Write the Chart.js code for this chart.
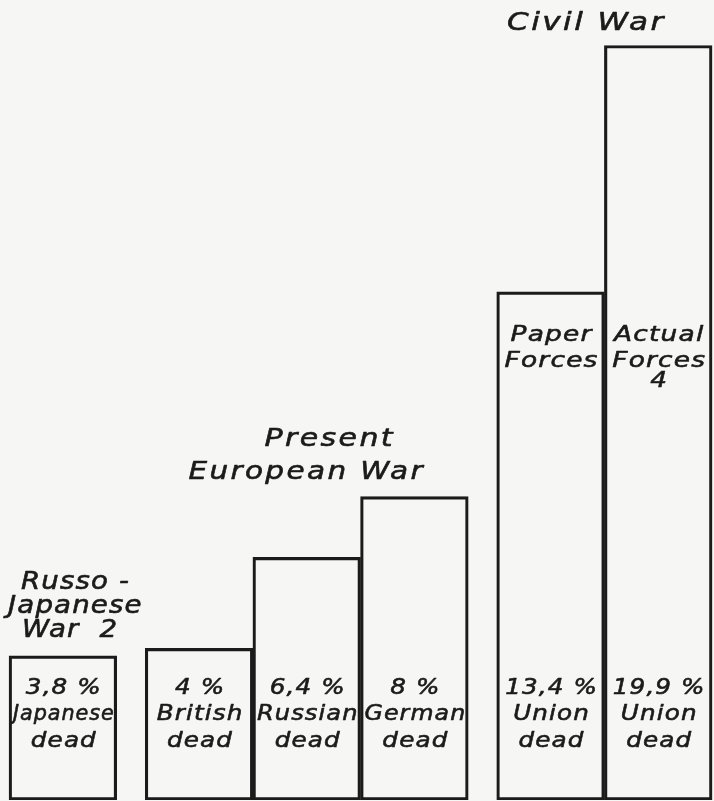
<!DOCTYPE html>
<html>
<head>
<meta charset="utf-8">
<script src="https://cdn.jsdelivr.net/npm/chart.js@4.4.1/dist/chart.umd.min.js"></script>
<style>
  html, body { margin: 0; padding: 0; background: #f6f6f4; }
  .wrap { width: 714px; height: 801px; }
</style>
</head>
<body>
<div class="wrap"><canvas id="deadChart"></canvas></div>
<script>
// percentage of forces killed, by army
const categories = ["Japanese", "British", "Russian", "German", "Union", "Union"];
const deadPct = [3.8, 4, 6.4, 8, 13.4, 19.9];
const groupOf = [0, 1, 1, 1, 2, 2];
const groupTitles = [["Russo -", "Japanese", "War  2"], ["Present", "European War"], ["Civil War"]];
const forceNotes = [null, null, null, null, ["Paper", "Forces"], ["Actual", "Forces", "4"]];

const GAP = 0.265; // space between war groups, in bar widths
const slotX = deadPct.map((v, i) => i + groupOf[i] * GAP);

const INK = "#1b1b1b";
const fontFamily = "'DejaVu Sans', sans-serif";

const fmtPct = v => String(v).replace(".", ",") + " %";

// the lettering is wide and heavy, so text is stretched sideways and lightly stroked
function wideText(ctx, text, x, y, sx, maxWidth) {
    ctx.save();
    ctx.translate(x, y);
    ctx.scale(sx, 1);
    const mw = maxWidth ? maxWidth / sx : undefined;
    if (mw) {
        ctx.fillText(text, 0, 0, mw);
        ctx.strokeText(text, 0, 0, mw);
    } else {
        ctx.fillText(text, 0, 0);
        ctx.strokeText(text, 0, 0);
    }
    ctx.restore();
}

const lettering = {
    id: "lettering",
    afterDatasetsDraw(chart) {
        const ctx = chart.ctx;
        const bars = chart.getDatasetMeta(0).data;
        const base = chart.scales.y.getPixelForValue(0);
        ctx.save();
        ctx.fillStyle = INK;
        ctx.strokeStyle = INK;
        ctx.lineWidth = 0.6;
        ctx.lineJoin = "round";
        ctx.textBaseline = "middle";
        ctx.textAlign = "center";

        // value, army and "dead" near the foot of every bar
        ctx.font = "italic 22px " + fontFamily;
        ctx.letterSpacing = "1px";
        bars.forEach((bar, i) => {
            const lines = [fmtPct(deadPct[i]), categories[i], "dead"];
            [-112, -86, -59].forEach((dy, k) => wideText(ctx, lines[k], bar.x + 1, base + dy, 1.12, bar.width - 6));
        });

        // paper / actual forces notes, level with the lower civil war bar
        const civil = bars.filter((b, i) => forceNotes[i]);
        const noteTop = Math.max(...civil.map(b => b.y));
        bars.forEach((bar, i) => {
            const note = forceNotes[i];
            if (!note) return;
            [43, 69, 89].forEach((dy, k) => {
                if (note[k]) wideText(ctx, note[k], bar.x + 1, noteTop + dy, 1.2, bar.width - 6);
            });
        });

        // group headings above the tallest bar of each war
        groupTitles.forEach((title, g) => {
            const members = bars.filter((b, i) => groupOf[i] === g);
            const top = Math.min(...members.map(b => b.y));
            if (g === 0) {
                ctx.font = "italic 24px " + fontFamily;
                ctx.letterSpacing = "1px";
                ctx.textAlign = "left";
                const left = members[0].x - members[0].width / 2;
                const indents = [12, -1, 13];
                title.forEach((t, k) => wideText(ctx, t, left + indents[k], top - 25 - (title.length - 1 - k) * 24, 1.15));
            } else if (g === 1) {
                ctx.font = "italic 25px " + fontFamily;
                ctx.letterSpacing = "2px";
                ctx.textAlign = "center";
                const mid = members[1].x;
                wideText(ctx, title[0], mid + 23, top - 57, 1.2);
                wideText(ctx, title[1], mid, top - 24, 1.18);
            } else {
                ctx.font = "italic 25px " + fontFamily;
                ctx.letterSpacing = "2px";
                ctx.textAlign = "center";
                const mid = (members[0].x + members[1].x) / 2;
                wideText(ctx, title[0], mid - 18, top - 22, 1.24);
            }
        });
        ctx.restore();
    }
};

new Chart(document.getElementById("deadChart"), {
    type: "bar",
    data: {
        datasets: [
            {
                label: "dead",
                data: deadPct.map((v, i) => ({ x: slotX[i], y: v })),
                backgroundColor: "rgba(0,0,0,0)",
                borderColor: INK,
                borderWidth: 2.5,
                borderSkipped: false,
                barPercentage: 1,
                categoryPercentage: 1,
            },
        ],
    },
    options: {
        responsive: true,
        maintainAspectRatio: false,
        animation: false,
        layout: { padding: { top: 0, bottom: 1, left: 0, right: 0 } },
        scales: {
            x: {
                type: "linear", min: -0.584, max: 6.048, offset: false, display: false,
                // one tick per bar so the bar width is the spacing of neighbours
                afterBuildTicks: scale => { scale.ticks = slotX.map(v => ({ value: v })); },
            },
            y: { min: 0, max: 21.1, display: false },
        },
        plugins: {
            legend: { display: false },
            tooltip: { enabled: false },
        },
    },
    plugins: [lettering],
});
</script>
</body>
</html>
